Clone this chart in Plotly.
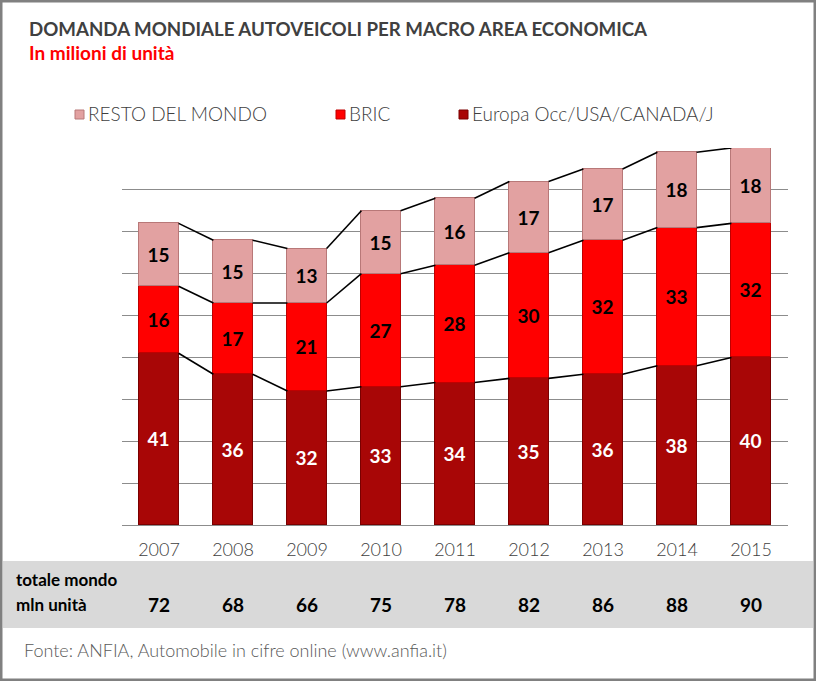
import plotly.graph_objects as go

years = ["2007", "2008", "2009", "2010", "2011", "2012", "2013", "2014", "2015"]
europa = [41, 36, 32, 33, 34, 35, 36, 38, 40]
bric = [16, 17, 21, 27, 28, 30, 32, 33, 32]
resto = [15, 15, 13, 15, 16, 17, 17, 18, 18]
totale = [72, 68, 66, 75, 78, 82, 86, 88, 90]

series_names = ["Europa Occ/USA/CANADA/J", "BRIC", "RESTO DEL MONDO"]
series_vals = [europa, bric, resto]
colors = ["#A80606", "#FF0000", "#E2A1A1"]
edge_colors = ["#7A0000", "#C00000", "#B87878"]
label_colors = ["white", "black", "black"]

W, H = 816, 681
L, R, T, B = 122, 28, 148, 156
PW, PH = W - L - R, H - T - B
bar_w = 0.53


def px(p):
    return (p - L) / PW


def py(p):
    return (H - B - p) / PH


x_idx = list(range(len(years)))
fig = go.Figure()

for name, vals, c, ec, lc in zip(series_names, series_vals, colors, edge_colors, label_colors):
    fig.add_trace(go.Bar(
        x=x_idx, y=vals, name=name, width=bar_w,
        marker=dict(color=c, line=dict(color=ec, width=1)),
        text=[str(v) for v in vals], textposition="inside", insidetextanchor="middle",
        textangle=0, constraintext="none",
        textfont=dict(family="Lato", size=19, color=lc, weight="bold"),
        showlegend=False, hoverinfo="skip",
    ))

# connector lines between segment tops
cum = [0] * len(years)
for vals in series_vals:
    cum = [a + b for a, b in zip(cum, vals)]
    lx, ly = [], []
    for i in range(len(years) - 1):
        lx += [i + bar_w / 2, i + 1 - bar_w / 2, None]
        ly += [cum[i], cum[i + 1], None]
    fig.add_trace(go.Scatter(x=lx, y=ly, mode="lines", line=dict(color="black", width=1.6),
                             showlegend=False, hoverinfo="skip"))

annotations = []
shapes = []

# title & subtitle
annotations.append(dict(x=px(27), y=py(29), xref="paper", yref="paper", xanchor="left", yanchor="middle",
                        text="<b>DOMANDA MONDIALE AUTOVEICOLI PER MACRO AREA ECONOMICA</b>", showarrow=False,
                        font=dict(family="Lato", size=18.7, color="#404040")))
annotations.append(dict(x=px(27), y=py(52), xref="paper", yref="paper", xanchor="left", yanchor="middle",
                        text="<b>In milioni di unità</b>", showarrow=False,
                        font=dict(family="Lato", size=19, color="#FF0000")))

# legend (manual)
legend_items = [("RESTO DEL MONDO", colors[2], edge_colors[2], 75),
                ("BRIC", colors[1], edge_colors[1], 336),
                ("Europa Occ/USA/CANADA/J", colors[0], edge_colors[0], 459)]
for text, c, ec, x0 in legend_items:
    shapes.append(dict(type="rect", xref="paper", yref="paper", x0=px(x0), x1=px(x0 + 9),
                       y0=py(119), y1=py(110), fillcolor=c, line=dict(color=ec, width=1)))
    annotations.append(dict(x=px(x0 + 11), y=py(114), xref="paper", yref="paper", xanchor="left",
                            yanchor="middle", text=text, showarrow=False,
                            font=dict(family="Lato", size=19, color="#404040", weight=300)))

# gray band with totals
shapes.append(dict(type="rect", xref="paper", yref="paper", x0=px(3), x1=px(813), y0=py(628), y1=py(561),
                   fillcolor="#D9D9D9", line=dict(width=0), layer="below"))
annotations.append(dict(x=px(14), y=py(579), xref="paper", yref="paper", xanchor="left", yanchor="middle",
                        text="<b>totale mondo</b>", showarrow=False,
                        font=dict(family="Lato", size=17, color="black")))
annotations.append(dict(x=px(14), y=py(604), xref="paper", yref="paper", xanchor="left", yanchor="middle",
                        text="<b>mln unità</b>", showarrow=False,
                        font=dict(family="Lato", size=17, color="black")))
for i, t in enumerate(totale):
    annotations.append(dict(x=i, y=py(604), xref="x", yref="paper", xanchor="center", yanchor="middle",
                            text=f"<b>{t}</b>", showarrow=False,
                            font=dict(family="Lato", size=19, color="black")))

# source
annotations.append(dict(x=px(22), y=py(650), xref="paper", yref="paper", xanchor="left", yanchor="middle",
                        text="Fonte: ANFIA, Automobile in cifre online (www.anfia.it)", showarrow=False,
                        font=dict(family="Lato", size=18, color="#595959", weight=300)))

# outer border
shapes.append(dict(type="rect", xref="paper", yref="paper", x0=px(1), x1=px(W - 1), y0=py(H - 1), y1=py(1),
                   line=dict(color="#808080", width=3)))

fig.update_layout(
    width=W, height=H,
    margin=dict(l=L, r=R, t=T, b=B, pad=0),
    paper_bgcolor="white", plot_bgcolor="white",
    barmode="stack", bargap=0,
    showlegend=False,
    annotations=annotations, shapes=shapes,
    xaxis=dict(range=[-0.5, len(years) - 0.5], tickmode="array", tickvals=x_idx, ticktext=years,
               showgrid=False, zeroline=False, showline=False, ticks="",
               ticklabelstandoff=12,
               tickfont=dict(family="Lato", size=18, color="#404040", weight=300)),
    yaxis=dict(range=[0, 90], dtick=10, showticklabels=False, showgrid=True, gridcolor="#8C8C8C",
               gridwidth=1, zeroline=True, zerolinecolor="#8C8C8C", zerolinewidth=1, showline=False),
)

fig.write_html("out.html", config={"displayModeBar": False},
               post_script="document.body.style.margin='0';document.body.style.overflow='hidden';")
